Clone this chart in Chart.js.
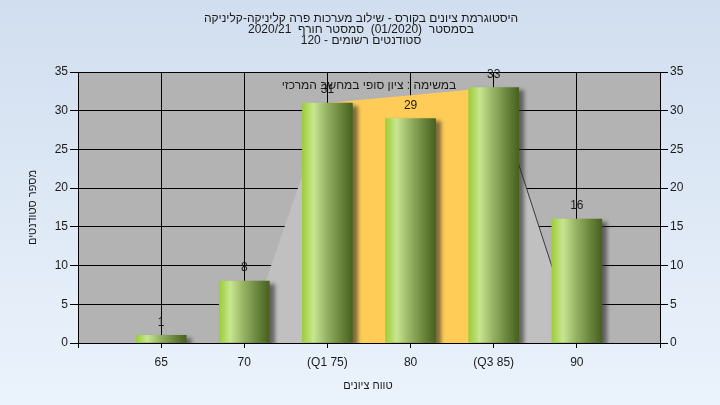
<!DOCTYPE html>
<html lang="he">
<head>
<meta charset="utf-8">
<script src="https://cdn.jsdelivr.net/npm/chart.js@4"></script>
<style>
  html, body { margin: 0; padding: 0; }
  #wrap { width: 720px; height: 405px; }
</style>
</head>
<body>
<div id="wrap"><canvas id="histChart" width="720" height="405"></canvas></div>
<script>
// נתוני ההיסטוגרמה
const gradeBins = [65, 70, 75, 80, 85, 90];
const binLabels = ['65', '70', '(Q1 75)', '80', '(Q3 85)', '90'];
const studentCounts = [1, 8, 31, 29, 33, 16];

// משטח הרקע (זנבות + טווח בין רבעוני)
const leftTailX = [70, 75];
const leftTailY = [0, 31];
const iqrX = [75, 85];
const iqrY = [31, 33];
const rightTailX = [85, 90];
const rightTailY = [33, 0];

const titleLines = [
    'היסטוגרמת ציונים בקורס - שילוב מערכות פרה קליניקה-קליניקה',
    'בסמסטר  (01/2020)  סמסטר חורף  2020/21',
    'סטודנטים רשומים - 120'
];
const noteText = 'במשימה : ציון סופי במחשב המרכזי';
const yTitle = 'מספר סטודנטים';
const xTitle = 'טווח ציונים';

const FONT = '"Liberation Sans", Arial, sans-serif';

function toPoints(xs, ys) {
    return xs.map((x, i) => ({ x: x, y: ys[i] }));
}

// רקע כללי + רקע אפור לאזור השרטוט
const backdrop = {
    id: 'backdrop',
    beforeDraw(chart) {
        const { ctx, chartArea: a, width, height } = chart;
        ctx.save();
        const g = ctx.createLinearGradient(0, 0, 0, height);
        g.addColorStop(0, '#d1deef');
        g.addColorStop(1, '#ebf3fc');
        ctx.fillStyle = g;
        ctx.fillRect(0, 0, width, height);
        ctx.fillStyle = '#b3b3b3';
        ctx.fillRect(a.left, a.top, a.right - a.left, a.bottom - a.top);
        ctx.restore();
    }
};

// צל לעמודות
const barShadow = {
    id: 'barShadow',
    beforeDatasetDraw(chart, args) {
        if (args.meta.type !== 'bar') return;
        const ctx = chart.ctx;
        ctx.save();
        ctx.shadowColor = 'rgba(40,40,40,0.6)';
        ctx.shadowOffsetX = 5;
        ctx.shadowOffsetY = 3;
        ctx.shadowBlur = 4;
    },
    afterDatasetDraw(chart, args) {
        if (args.meta.type !== 'bar') return;
        chart.ctx.restore();
    }
};

// טקסטים: כותרת, הערה, ערכים מעל העמודות, כותרות צירים
const texts = {
    id: 'texts',
    afterDraw(chart) {
        const { ctx, chartArea: a } = chart;
        ctx.save();
        ctx.fillStyle = '#1a1a1a';
        ctx.textAlign = 'center';
        ctx.textBaseline = 'middle';

        // ערכים מעל העמודות
        ctx.font = '12px ' + FONT;
        const meta = chart.getDatasetMeta(0);
        meta.data.forEach((bar, i) => {
            ctx.fillText(String(studentCounts[i]), bar.x, bar.y - 13);
        });

        ctx.direction = 'rtl';
        // כותרת
        titleLines.forEach((line, i) => {
            ctx.fillText(line, 361, 19 + i * 11);
        });
        // הערה בתוך אזור השרטוט
        ctx.fillText(noteText, 369, a.top + 14);

        // כותרת ציר X
        ctx.font = '11px ' + FONT;
        ctx.fillText(xTitle, (a.left + a.right) / 2 - 1, 386);

        // כותרת ציר Y
        ctx.translate(33, (a.top + a.bottom) / 2);
        ctx.rotate(-Math.PI / 2);
        ctx.fillText(yTitle, 0, 0);
        ctx.restore();
    }
};

function barGradient(c) {
    const chart = c.chart;
    if (c.type !== 'data' || !chart.chartArea) return '#9ccc3c';
    const cx = chart.scales.x.getPixelForValue(c.parsed.x);
    const g = chart.ctx.createLinearGradient(cx - 25, 0, cx + 25, 0);
    g.addColorStop(0, '#9ccd38');
    g.addColorStop(0.22, '#c8e690');
    g.addColorStop(0.5, '#93b062');
    g.addColorStop(0.78, '#66833a');
    g.addColorStop(1, '#48611f');
    return g;
}

const ctx = document.getElementById('histChart').getContext('2d');
new Chart(ctx, {
    type: 'bar',
    data: {
        datasets: [
            {
                type: 'bar',
                data: toPoints(gradeBins, studentCounts),
                backgroundColor: barGradient,
                borderWidth: 0,
                barThickness: 50,
                yAxisID: 'y',
                order: 0
            },
            {
                type: 'line',
                data: toPoints(leftTailX, leftTailY),
                backgroundColor: '#c0c0c0',
                borderWidth: 0,
                pointRadius: 0,
                fill: 'origin',
                yAxisID: 'y',
                order: 2
            },
            {
                type: 'line',
                data: toPoints(iqrX, iqrY),
                backgroundColor: '#ffcc57',
                borderWidth: 0,
                pointRadius: 0,
                fill: 'origin',
                yAxisID: 'y',
                order: 2
            },
            {
                type: 'line',
                data: toPoints(rightTailX, rightTailY),
                backgroundColor: '#c0c0c0',
                borderColor: '#3a3a3a',
                borderWidth: 1,
                pointRadius: 0,
                fill: 'origin',
                yAxisID: 'y',
                order: 1
            }
        ]
    },
    options: {
        responsive: false,
        animation: false,
        layout: { padding: { top: 72, left: 0, right: 0, bottom: 0 } },
        scales: {
            x: {
                type: 'linear',
                min: 60,
                max: 95,
                offset: false,
                grid: {
                    color: '#000',
                    offset: false,
                    tickLength: 5
                },
                border: { color: '#000' },
                ticks: {
                    stepSize: 5,
                    autoSkip: false,
                    maxRotation: 0,
                    padding: 7,
                    color: '#1a1a1a',
                    font: { size: 12, family: FONT },
                    callback: function (value) {
                        const i = gradeBins.indexOf(value);
                        return i >= 0 ? binLabels[i] : '';
                    }
                },
                afterFit: function (scale) { scale.height = 62; }
            },
            y: {
                position: 'left',
                min: 0,
                max: 35,
                grid: { color: '#000', tickLength: 8 },
                border: { color: '#000' },
                ticks: {
                    stepSize: 5,
                    padding: 2,
                    color: '#1a1a1a',
                    font: { size: 12, family: FONT }
                },
                afterFit: function (scale) { scale.width = 78; }
            },
            y2: {
                position: 'right',
                min: 0,
                max: 35,
                grid: { color: '#000', tickLength: 8, drawOnChartArea: false },
                border: { color: '#000' },
                ticks: {
                    stepSize: 5,
                    padding: 2,
                    color: '#1a1a1a',
                    font: { size: 12, family: FONT }
                },
                afterFit: function (scale) { scale.width = 60; }
            }
        },
        plugins: {
            legend: { display: false },
            tooltip: { enabled: false },
            title: { display: false }
        }
    },
    plugins: [backdrop, barShadow, texts]
});
</script>
</body>
</html>
